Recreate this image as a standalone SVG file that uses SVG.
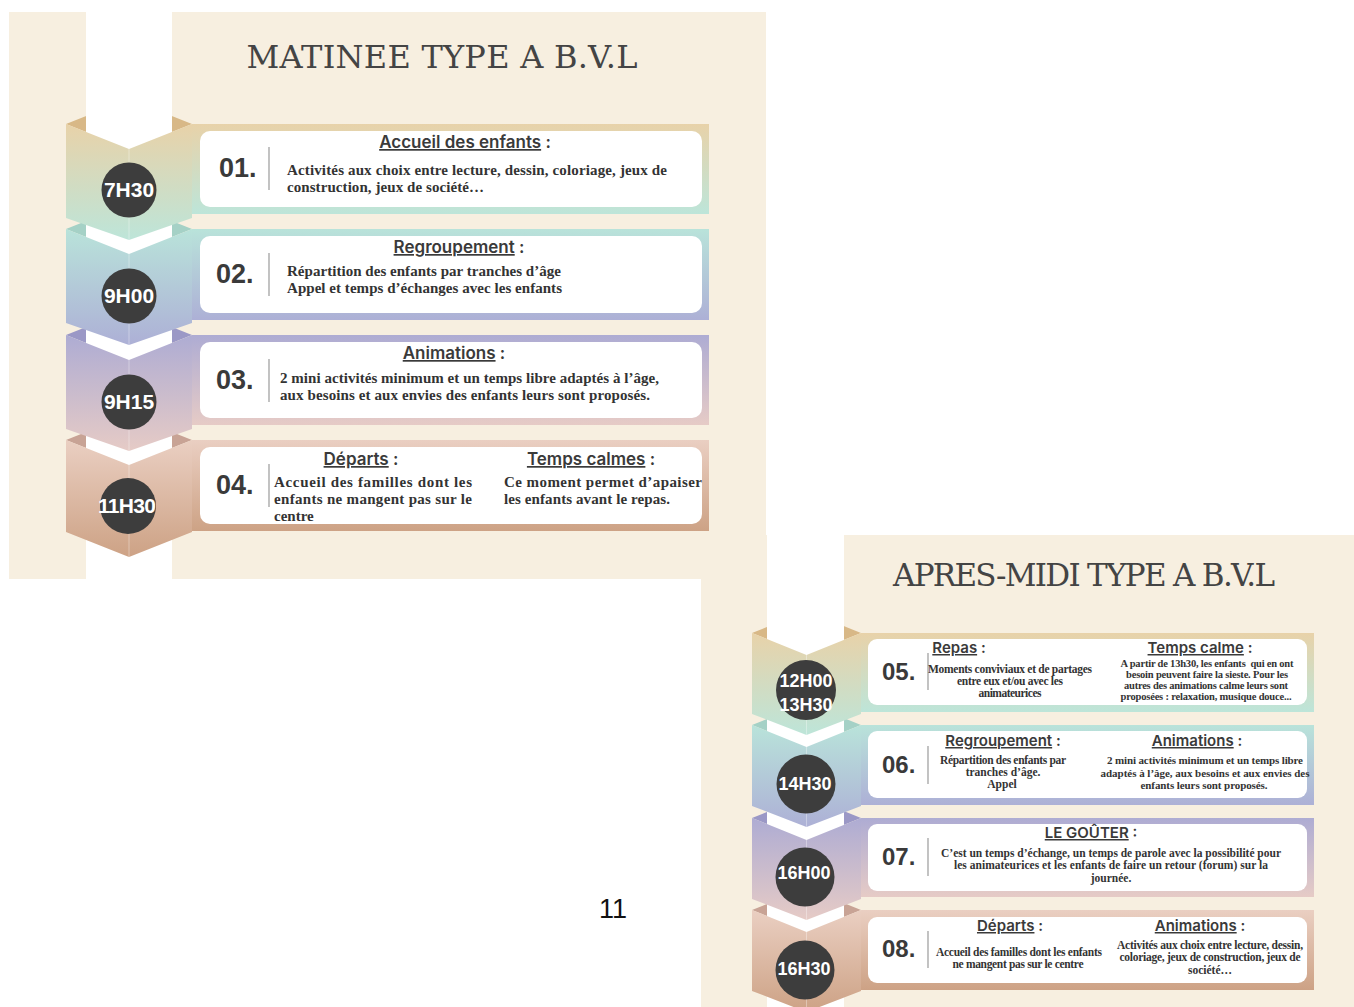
<svg xmlns="http://www.w3.org/2000/svg" width="1354" height="1007" viewBox="0 0 1354 1007">
<style>
.panel{fill:#f7efe0}
.strip{fill:#ffffff}
.card{fill:#ffffff}
.fold{stroke:#ffffff;stroke-opacity:0.35;stroke-width:1}
.disc{fill:#3d3d3d}
.time{font-family:"Liberation Sans",Arial,sans-serif;font-weight:bold;fill:#ffffff;text-anchor:middle}
.num{font-family:"Liberation Sans",Arial,sans-serif;font-weight:bold;fill:#3a3a3a}
.div{stroke:#9a9a9a;stroke-width:1.2}
.ttl{font-family:Inter,"Liberation Sans",Arial,sans-serif;font-weight:600;fill:#3a3a3a;text-anchor:middle}
.u{text-decoration:underline}
.body{font-family:"Liberation Serif","Times New Roman",serif;font-weight:bold;fill:#333333}
.mid{text-anchor:middle}
.head{font-family:"DejaVu Serif",serif;fill:#444444;text-anchor:middle}
</style>
<defs>
<linearGradient id="g1" x1="0" y1="0" x2="0" y2="1"><stop offset="0" stop-color="#e8d2a9"/><stop offset="1" stop-color="#bde5d9"/></linearGradient>
<linearGradient id="g2" x1="0" y1="0" x2="0" y2="1"><stop offset="0" stop-color="#b9e3da"/><stop offset="1" stop-color="#adb0d6"/></linearGradient>
<linearGradient id="g3" x1="0" y1="0" x2="0" y2="1"><stop offset="0" stop-color="#aeacd3"/><stop offset="1" stop-color="#e6cbc6"/></linearGradient>
<linearGradient id="g4" x1="0" y1="0" x2="0" y2="1"><stop offset="0" stop-color="#eacfc2"/><stop offset="1" stop-color="#cda285"/></linearGradient>
</defs>

<!-- panels -->
<g id="panel-matinee">
<rect class="panel" x="9" y="12" width="757" height="567"/>
</g>
<g id="panel-apresmidi">
<rect class="panel" x="701" y="535" width="653" height="472"/>
</g>

<!-- back folds -->
<g id="folds">
<polygon fill="#d8b887" points="66,124 129,99 192,124 129,149"/>
<polygon fill="#a5d1c6" points="66,229 129,204 192,229 129,254"/>
<polygon fill="#9b98c6" points="66,335 129,310 192,335 129,360"/>
<polygon fill="#c8a395" points="66,440 129,415 192,440 129,465"/>
<polygon fill="#d8b887" points="752,633 806.5,611 861,633 806.5,655"/>
<polygon fill="#a5d1c6" points="752,725 806.5,703 861,725 806.5,747"/>
<polygon fill="#9b98c6" points="752,818 806.5,796 861,818 806.5,840"/>
<polygon fill="#c8a395" points="752,910 806.5,888 861,910 806.5,932"/>
</g>

<rect class="strip" x="86" y="12" width="86" height="567"/>
<rect class="strip" x="767" y="535" width="77" height="472"/>

<g id="title-matinee">
<text class="head" x="442" y="68" font-size="32" textLength="391" lengthAdjust="spacing">MATINEE TYPE A B.V.L</text>
</g>
<g id="title-apresmidi">
<text class="head" x="1084" y="586" font-size="31" textLength="382" lengthAdjust="spacing">APRES-MIDI TYPE A B.V.L</text>
</g>

<!-- row 01 -->
<g id="row01">
<rect fill="url(#g1)" x="192" y="124" width="517" height="90"/>
<polygon fill="url(#g1)" points="66,124 129,149 192,124 192,218 129,240 66,218"/>
<line class="fold" x1="129" y1="149" x2="129" y2="240"/>
<rect class="card" x="200" y="131" width="502" height="76" rx="10"/>
<circle class="disc" cx="129" cy="190" r="27.5"/>
<text class="time" x="129" y="197" font-size="21">7H30</text>
<text class="num" x="219" y="177" font-size="27">01.</text>
<line class="div" x1="269" y1="147" x2="269" y2="190"/>
<text class="ttl" x="465" y="148" font-size="17"><tspan class="u">Accueil des enfants</tspan> :</text>
<text class="body" x="287" y="175" font-size="15" textLength="380">Activités aux choix entre lecture, dessin, coloriage, jeux de</text>
<text class="body" x="287" y="192" font-size="15" textLength="197">construction, jeux de société…</text>
</g>

<!-- row 02 -->
<g id="row02">
<rect fill="url(#g2)" x="192" y="229" width="517" height="91"/>
<polygon fill="url(#g2)" points="66,229 129,254 192,229 192,323 129,345 66,323"/>
<line class="fold" x1="129" y1="254" x2="129" y2="345"/>
<rect class="card" x="200" y="236" width="502" height="77" rx="10"/>
<circle class="disc" cx="129" cy="296" r="27.5"/>
<text class="time" x="129" y="303" font-size="21">9H00</text>
<text class="num" x="216" y="283" font-size="27">02.</text>
<line class="div" x1="269" y1="253" x2="269" y2="296"/>
<text class="ttl" x="459" y="253" font-size="17"><tspan class="u">Regroupement</tspan> :</text>
<text class="body" x="287" y="276" font-size="15" textLength="274">Répartition des enfants par tranches d’âge</text>
<text class="body" x="287" y="293" font-size="15" textLength="275">Appel et temps d’échanges avec les enfants</text>
</g>

<!-- row 03 -->
<g id="row03">
<rect fill="url(#g3)" x="192" y="335" width="517" height="90"/>
<polygon fill="url(#g3)" points="66,335 129,360 192,335 192,429 129,451 66,429"/>
<line class="fold" x1="129" y1="360" x2="129" y2="451"/>
<rect class="card" x="200" y="342" width="502" height="76" rx="10"/>
<circle class="disc" cx="129" cy="402" r="27.5"/>
<text class="time" x="129" y="409" font-size="21">9H15</text>
<text class="num" x="216" y="389" font-size="27">03.</text>
<line class="div" x1="269" y1="359" x2="269" y2="402"/>
<text class="ttl" x="454" y="359" font-size="17"><tspan class="u">Animations</tspan> :</text>
<text class="body" x="280" y="383" font-size="15" textLength="379">2 mini activités minimum et un temps libre adaptés à l’âge,</text>
<text class="body" x="280" y="400" font-size="15" textLength="370">aux besoins et aux envies des enfants leurs sont proposés.</text>
</g>

<!-- row 04 -->
<g id="row04">
<rect fill="url(#g4)" x="192" y="440" width="517" height="91"/>
<polygon fill="url(#g4)" points="66,440 129,465 192,440 192,532 129,557 66,532"/>
<line class="fold" x1="129" y1="465" x2="129" y2="557"/>
<rect class="card" x="200" y="447" width="502" height="77" rx="10"/>
<circle class="disc" cx="128" cy="506" r="28"/>
<text class="time" x="127" y="513" font-size="21" textLength="58">11H30</text>
<text class="num" x="216" y="494" font-size="27">04.</text>
<line class="div" x1="269" y1="464" x2="269" y2="507"/>
<text class="ttl" x="361" y="465" font-size="17"><tspan class="u">Départs</tspan> :</text>
<text class="ttl" x="591" y="465" font-size="17"><tspan class="u">Temps calmes</tspan> :</text>
<text class="body" x="274" y="487" font-size="15" textLength="198">Accueil des familles dont les</text>
<text class="body" x="274" y="504" font-size="15" textLength="198">enfants ne mangent pas sur le</text>
<text class="body" x="274" y="521" font-size="15">centre</text>
<text class="body" x="504" y="487" font-size="15" textLength="198">Ce moment permet d’apaiser</text>
<text class="body" x="504" y="504" font-size="15" textLength="166">les enfants avant le repas.</text>
</g>

<!-- row 05 -->
<g id="row05">
<rect fill="url(#g1)" x="861" y="633" width="453" height="79"/>
<polygon fill="url(#g1)" points="752,633 806.5,655 861,633 861,714 806.5,735 752,714"/>
<line class="fold" x1="806.5" y1="655" x2="806.5" y2="735"/>
<rect class="card" x="868" y="639" width="439" height="66" rx="9"/>
<circle class="disc" cx="806" cy="690" r="30"/>
<text class="time" x="806" y="687" font-size="18">12H00</text>
<text class="time" x="806" y="711" font-size="18">13H30</text>
<text class="num" x="882" y="680" font-size="24">05.</text>
<line class="div" x1="928" y1="653" x2="928" y2="690"/>
<text class="ttl" x="959" y="653" font-size="15"><tspan class="u">Repas</tspan> :</text>
<text class="ttl" x="1200" y="653" font-size="15"><tspan class="u">Temps calme</tspan> :</text>
<text class="body mid" x="1010" y="673" font-size="11.5" textLength="164">Moments conviviaux et de partages</text>
<text class="body mid" x="1010" y="685" font-size="11.5" textLength="106">entre eux et/ou avec les</text>
<text class="body mid" x="1010" y="697" font-size="11.5" textLength="63">animateurices</text>
<text class="body mid" x="1207" y="666.5" font-size="10.5" textLength="173" xml:space="preserve">A partir de 13h30, les enfants  qui en ont</text>
<text class="body mid" x="1207" y="677.5" font-size="10.5" textLength="162">besoin peuvent faire la sieste. Pour les</text>
<text class="body mid" x="1206" y="688.5" font-size="10.5" textLength="164">autres des animations calme leurs sont</text>
<text class="body mid" x="1206" y="699.5" font-size="10.5" textLength="171">proposées : relaxation, musique douce...</text>
</g>

<!-- row 06 -->
<g id="row06">
<rect fill="url(#g2)" x="861" y="725" width="453" height="80"/>
<polygon fill="url(#g2)" points="752,725 806.5,747 861,725 861,806 806.5,827 752,806"/>
<line class="fold" x1="806.5" y1="747" x2="806.5" y2="827"/>
<rect class="card" x="868" y="731" width="439" height="67" rx="9"/>
<circle class="disc" cx="806" cy="784" r="29.5"/>
<text class="time" x="805" y="790" font-size="18">14H30</text>
<text class="num" x="882" y="773" font-size="24">06.</text>
<line class="div" x1="928" y1="746" x2="928" y2="784"/>
<text class="ttl" x="1003" y="746" font-size="15"><tspan class="u">Regroupement</tspan> :</text>
<text class="ttl" x="1197" y="746" font-size="15"><tspan class="u">Animations</tspan> :</text>
<text class="body mid" x="1003" y="764" font-size="11.5" textLength="126">Répartition des enfants par</text>
<text class="body mid" x="1003" y="776" font-size="11.5">tranches d’âge.</text>
<text class="body mid" x="1002" y="788" font-size="11.5">Appel</text>
<text class="body mid" x="1205" y="764" font-size="11" textLength="196">2 mini activités minimum et un temps libre</text>
<text class="body mid" x="1205" y="777" font-size="11" textLength="209">adaptés à l’âge, aux besoins et aux envies des</text>
<text class="body mid" x="1204" y="789" font-size="11" textLength="127">enfants leurs sont proposés.</text>
</g>

<!-- row 07 -->
<g id="row07">
<rect fill="url(#g3)" x="861" y="818" width="453" height="79"/>
<polygon fill="url(#g3)" points="752,818 806.5,840 861,818 861,899 806.5,920 752,899"/>
<line class="fold" x1="806.5" y1="840" x2="806.5" y2="920"/>
<rect class="card" x="868" y="824" width="439" height="67" rx="9"/>
<circle class="disc" cx="805" cy="877" r="29.5"/>
<text class="time" x="804" y="879" font-size="18">16H00</text>
<text class="num" x="882" y="865" font-size="24">07.</text>
<line class="div" x1="928" y1="838" x2="928" y2="876"/>
<text class="ttl" x="1091" y="838" font-size="15"><tspan class="u">LE GOÛTER</tspan> :</text>
<text class="body mid" x="1111" y="857" font-size="11.5" textLength="340">C’est un temps d’échange, un temps de parole avec la possibilité pour</text>
<text class="body mid" x="1111" y="869" font-size="11.5" textLength="314">les animateurices et les enfants de faire un retour (forum) sur la</text>
<text class="body mid" x="1111" y="882" font-size="11.5">journée.</text>
</g>

<!-- row 08 -->
<g id="row08">
<rect fill="url(#g4)" x="861" y="910" width="453" height="80"/>
<polygon fill="url(#g4)" points="752,910 806.5,932 861,910 861,991 806.5,1012 752,991"/>
<line class="fold" x1="806.5" y1="932" x2="806.5" y2="1012"/>
<rect class="card" x="868" y="917" width="439" height="66" rx="9"/>
<circle class="disc" cx="805" cy="970" r="29.5"/>
<text class="time" x="804" y="975" font-size="18">16H30</text>
<text class="num" x="882" y="957" font-size="24">08.</text>
<line class="div" x1="928" y1="931" x2="928" y2="968"/>
<text class="ttl" x="1010" y="931" font-size="15"><tspan class="u">Départs</tspan> :</text>
<text class="ttl" x="1200" y="931" font-size="15"><tspan class="u">Animations</tspan> :</text>
<text class="body mid" x="1019" y="956" font-size="11.5" textLength="166">Accueil des familles dont les enfants</text>
<text class="body mid" x="1018" y="968" font-size="11.5" textLength="131">ne mangent pas sur le centre</text>
<text class="body mid" x="1210" y="949" font-size="11.5" textLength="186">Activités aux choix entre lecture, dessin,</text>
<text class="body mid" x="1210" y="961" font-size="11.5" textLength="181">coloriage, jeux de construction, jeux de</text>
<text class="body mid" x="1210" y="974" font-size="11.5">société…</text>
</g>

<g id="connectors"></g>

<g id="page-number">
<text x="613" y="918" font-family="Liberation Sans, Arial, sans-serif" font-size="27" fill="#111111" text-anchor="middle">11</text>
</g>
</svg>
